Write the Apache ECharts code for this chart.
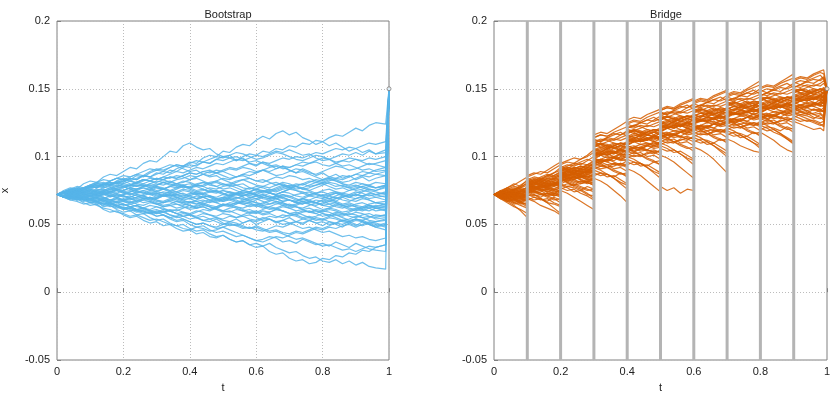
<!DOCTYPE html>
<html><head><meta charset="utf-8">
<script src="https://cdn.jsdelivr.net/npm/echarts/dist/echarts.min.js"></script>
<style>html,body{margin:0;padding:0;background:#fff}#c{width:830px;height:393px}</style>
</head><body><div id="c"></div>
<script>
// ---------- data (path values are in thousandths of x) ----------
const panelTitles = ['Bootstrap', 'Bridge'];
const xAxisName = 't';
const yAxisName = 'x';
const yTickLabels = ['-0.05', '0', '0.05', '0.1', '0.15', '0.2'];
const endPoint = [1, 0.15];
const bridgeBars = [0.1, 0.2, 0.3, 0.4, 0.5, 0.6, 0.7, 0.8, 0.9];
const bootStep = 0.02, bootLastT = 0.99;
const bridgeSegOffsets = [0, 0.02, 0.04, 0.06, 0.08, 0.1];
const bridgeLastOffsets = [0, 0.02, 0.04, 0.06, 0.08, 0.09];

const bootPaths = [
[72,74,73,76,75,78,77,80,79,82,84,83,86,85,88,90,89,92,94,93,96,95,99,101,100,104,103,107,109,108,112,115,113,117,119,116,118,114,112,109,111,108,110,107,104,106,103,105,102,105],
[72,75,77,76,80,82,81,85,87,86,89,92,91,95,97,96,100,104,103,108,110,107,105,106,102,100,101,97,99,95,93,96,94,91,93,90,88,91,89,86,88,85,87,84,86,83,85,82,84,86],
[72,71,74,73,76,78,77,80,79,82,81,84,83,86,85,88,87,90,89,92,94,93,96,95,98,100,99,97,100,102,101,104,103,106,105,108,107,110,109,112,111,114,116,115,118,121,119,123,125,124],
[72,70,68,69,66,64,65,61,59,60,57,55,56,53,51,52,49,50,47,45,46,43,44,41,40,42,39,37,38,35,36,34,36,33,31,29,30,27,25,26,23,22,24,21,23,20,22,19,18,17],
[72,73,70,68,69,66,67,63,64,61,59,60,57,58,55,53,54,51,49,50,47,45,46,43,41,42,39,37,38,35,33,34,30,28,29,25,23,24,21,22,25,24,27,26,29,28,31,30,33,35],
[72,71,73,70,68,69,67,65,66,63,61,62,60,58,59,56,57,54,52,53,50,48,49,46,44,45,43,41,42,40,38,39,41,40,37,38,36,39,37,35,36,34,37,35,33,36,34,32,31,30],
[72,74,72,70,71,69,67,68,66,64,65,63,64,62,60,61,59,60,58,56,57,55,56,54,55,53,52,54,51,53,50,52,54,51,53,55,52,50,53,51,49,52,50,48,51,49,52,50,48,50],
[72,73,75,74,72,73,71,72,70,72,71,69,70,72,74,73,71,72,70,68,69,67,68,66,68,70,69,67,65,66,64,66,68,67,65,63,64,66,65,63,61,62,64,63,61,60,62,64,63,65],
[72,74,76,75,77,79,78,80,79,81,83,82,80,82,84,83,85,84,86,85,83,85,87,86,88,86,84,85,87,89,88,90,88,86,87,89,91,90,88,87,89,91,93,92,90,91,93,95,94,92],
[72,71,69,70,68,66,67,65,63,64,62,60,61,59,58,60,59,61,60,62,64,63,65,67,66,68,70,69,71,73,72,74,76,75,77,79,78,80,82,81,83,85,84,86,85,87,89,88,90,92],
[72,74,75,73,76,78,77,79,81,80,82,84,83,86,85,87,89,88,91,93,92,94,96,95,98,97,99,100,98,96,97,95,93,94,92,90,88,89,87,85,83,84,82,80,78,79,77,75,74,72],
[72,70,71,73,72,70,68,69,71,70,68,66,67,69,68,66,64,65,67,66,64,62,63,61,63,65,64,62,60,61,59,61,63,62,60,58,59,57,55,56,58,57,55,53,54,56,55,53,52,54],
[72,73,74,76,75,77,79,78,80,81,80,82,81,83,82,80,79,81,83,84,86,85,87,89,88,90,92,91,93,95,94,96,95,97,99,98,100,99,101,103,102,104,106,105,107,106,108,110,109,111],
[72,70,68,67,65,66,64,62,61,59,58,56,57,55,53,54,52,50,49,47,46,48,47,45,46,48,50,49,51,53,52,54,56,55,57,56,58,60,59,61,60,62,61,59,60,62,61,63,62,60],
[72,74,73,75,77,76,74,75,77,79,78,76,74,75,73,71,72,74,76,78,77,79,81,80,78,76,77,75,73,74,76,78,77,79,81,80,78,76,75,77,79,81,80,78,77,75,76,78,77,79],
[72,71,73,72,70,69,71,70,68,66,67,65,66,68,67,65,63,64,62,63,61,62,64,63,61,59,60,58,56,57,55,53,54,52,50,51,49,47,48,46,44,45,43,41,42,40,41,39,38,40],
[72,74,76,78,77,79,81,83,82,84,86,85,87,89,91,90,92,94,93,91,89,90,87,85,86,83,81,79,80,77,75,73,74,71,69,68,66,67,65,64,66,68,67,70,72,71,74,76,75,78],
[72,70,71,69,67,68,66,64,65,63,61,62,60,61,59,58,60,57,55,56,54,55,53,52,54,51,49,50,48,47,49,47,45,46,44,43,45,44,46,48,47,49,51,50,52,54,53,55,57,56],
[72,73,75,77,76,78,80,79,82,84,83,85,87,86,89,91,90,92,94,93,95,97,96,98,100,99,101,103,102,100,98,99,101,103,102,100,98,97,99,101,100,98,96,97,99,98,96,94,95,97],
[72,73,71,72,74,73,75,74,72,73,71,70,72,71,69,70,72,71,73,75,74,72,73,71,70,72,74,73,75,77,76,74,75,77,79,78,80,79,81,83,82,84,83,81,82,84,86,85,87,86],
[72,71,69,70,68,69,67,65,66,64,62,63,61,60,58,59,57,55,56,54,52,50,51,49,47,48,46,44,42,40,38,37,39,41,40,42,44,43,45,47,46,48,47,49,50,48,50,52,51,49],
[72,74,73,75,77,78,80,79,81,80,78,79,81,83,82,84,83,81,80,82,81,79,78,80,82,84,83,85,87,86,88,90,89,91,93,92,94,96,95,97,99,98,100,102,101,103,101,104,102,103],
[72,70,71,68,69,67,65,66,64,62,63,61,59,60,58,56,57,55,53,54,52,50,51,49,48,50,52,51,49,47,48,46,44,45,43,41,39,40,38,36,34,35,33,31,32,30,32,34,33,35],
[72,73,72,74,76,75,73,74,76,78,77,79,78,80,82,81,83,85,84,86,88,87,89,88,90,89,87,85,86,84,82,83,81,79,80,78,76,77,75,73,74,72,73,71,70,72,71,69,70,68],
[72,71,70,72,71,69,70,68,67,69,68,70,72,71,73,72,74,73,71,70,72,74,73,75,74,72,71,73,75,74,72,70,71,69,67,68,66,65,67,66,64,63,65,64,62,61,63,62,60,61],
[72,74,75,77,76,78,80,81,79,80,82,80,78,79,77,75,76,74,72,73,71,69,70,68,67,69,68,66,68,70,69,71,73,72,74,76,78,77,79,81,80,82,84,83,85,87,86,88,87,89],
[72,70,71,69,70,68,66,67,65,64,62,63,61,62,60,59,61,60,58,56,57,55,53,54,52,50,51,49,47,48,46,45,47,49,48,50,52,51,53,55,54,56,58,57,59,61,60,62,64,63],
[72,74,76,75,77,79,81,80,82,84,83,82,84,86,85,83,85,87,89,88,90,92,91,93,95,94,96,98,97,99,101,100,102,104,103,105,103,101,102,99,97,98,95,93,94,92,90,91,89,90],
[72,73,71,70,68,69,67,68,66,64,65,63,61,62,60,58,59,57,56,58,57,59,61,60,62,64,63,65,67,66,68,70,69,71,70,68,67,69,68,66,64,65,63,62,64,63,61,60,62,61],
[72,71,73,72,74,73,71,72,74,76,75,77,76,78,80,79,81,80,78,79,77,78,76,74,75,73,71,72,70,68,69,67,65,66,64,62,63,61,59,60,58,56,57,55,53,54,52,50,48,46],
[72,73,72,70,71,73,72,74,73,71,72,74,75,73,72,70,71,73,74,72,70,69,71,70,68,69,71,73,72,70,71,69,68,70,72,71,69,67,68,70,69,71,73,72,70,69,71,72,70,71],
[72,74,73,75,76,74,75,77,78,76,77,79,81,80,78,79,81,82,80,81,83,84,82,80,81,79,80,82,83,81,79,78,80,81,79,77,78,76,77,79,80,78,76,77,75,76,78,79,77,78],
[72,71,70,71,69,68,70,69,67,66,68,67,65,64,66,65,63,64,65,63,62,64,65,63,61,60,62,63,61,59,60,58,59,61,60,58,57,59,60,58,56,57,59,58,56,55,57,58,56,57],
[72,73,74,73,75,74,72,73,71,70,72,73,71,69,70,68,67,69,70,68,66,65,67,68,66,64,65,63,62,64,65,63,61,62,64,65,63,62,64,66,65,67,66,64,63,65,66,64,62,63],
[72,71,73,74,72,73,75,76,74,73,75,77,76,78,79,77,76,78,80,79,77,75,76,74,73,75,74,72,71,73,72,70,69,71,72,70,68,69,67,66,68,69,67,65,66,64,63,65,66,64],
[72,70,69,71,70,68,67,69,68,70,71,69,68,66,67,65,66,68,69,67,66,68,70,71,69,70,72,73,71,72,74,75,73,72,74,76,75,73,74,72,71,73,74,72,71,73,75,74,72,73],
[72,73,75,74,76,77,79,78,80,81,79,78,80,79,77,78,76,75,77,78,76,74,75,77,76,78,79,77,75,74,76,75,73,72,74,73,71,70,72,73,71,69,70,68,67,69,70,68,66,65],
[72,71,72,70,69,71,72,70,68,69,67,66,68,69,70,68,66,67,65,64,66,67,65,63,62,64,66,65,67,68,66,65,67,69,70,68,67,69,71,72,70,69,71,73,72,74,73,71,72,70],
[72,74,75,73,74,76,74,73,75,77,78,76,75,77,76,74,73,71,72,70,69,71,70,68,69,67,68,70,69,67,66,64,65,67,66,64,63,61,62,60,59,61,60,58,57,59,58,56,55,57],
[72,71,69,68,70,71,73,72,74,75,73,74,76,77,75,74,76,78,77,79,80,78,79,81,82,80,78,79,77,76,78,77,75,74,76,77,75,74,72,73,75,76,74,73,75,77,78,76,75,77],
[72,73,71,70,72,71,69,68,66,67,65,63,64,62,61,63,62,60,61,59,58,60,59,57,56,58,57,55,56,54,53,55,54,52,53,51,52,54,53,51,52,50,51,53,52,54,53,51,52,53],
[72,74,73,75,74,76,78,77,79,78,80,79,81,83,82,84,83,85,84,86,88,87,89,90,88,89,91,90,92,91,89,90,92,93,91,92,94,93,95,96,94,93,95,97,96,98,97,99,98,100],
[72,71,72,74,73,71,70,72,73,75,74,72,73,75,76,78,77,75,74,76,75,73,72,74,75,73,71,70,68,69,71,72,70,69,71,70,72,73,71,70,72,71,69,70,68,67,69,68,66,67],
[72,70,71,69,70,72,71,73,71,70,68,69,67,68,70,69,71,72,70,69,71,73,72,70,68,67,69,68,66,65,63,64,62,61,63,62,60,61,59,58,60,59,57,56,58,57,55,56,54,55],
[72,73,74,72,73,75,76,75,77,76,74,75,73,74,72,73,71,70,72,71,73,72,70,71,69,68,70,72,73,71,73,75,74,76,78,77,79,80,78,79,81,80,78,79,77,78,80,79,81,80],
[72,71,70,72,73,71,69,70,68,67,69,68,70,71,69,67,66,68,67,65,64,62,63,61,62,60,59,61,60,58,59,57,58,56,55,57,56,54,55,53,54,52,51,53,52,50,49,51,50,48],
[72,74,75,76,74,75,73,74,76,75,73,72,74,73,75,77,76,78,79,77,78,80,81,79,78,80,79,81,83,84,82,81,83,85,84,86,85,83,84,82,81,83,82,80,79,81,80,78,77,79],
[72,72,70,71,73,72,74,73,71,72,70,71,69,70,68,69,71,70,68,66,67,65,66,64,63,65,64,66,65,63,64,62,63,65,66,64,65,67,66,68,67,65,66,64,65,63,62,64,63,62],
[72,73,71,72,70,71,73,75,74,76,75,77,79,78,80,82,81,79,80,78,77,79,78,76,74,75,73,72,74,73,71,72,70,69,67,68,66,65,67,66,68,67,69,71,70,72,71,73,72,74],
[72,71,73,71,70,68,69,67,65,66,64,65,63,62,64,63,61,60,58,59,57,56,58,57,55,54,56,55,57,59,58,60,59,61,60,58,57,55,56,54,53,55,54,52,51,53,52,50,49,51]
];

const bridgeSeg0 = [
[72,74,77,79,82,85],[72,70,67,64,60,55],[72,73,71,74,76,75],[72,71,69,70,67,68],[72,75,73,76,78,80],
[72,69,70,66,64,62],[72,74,76,75,77,79],[72,70,72,69,71,70],[72,73,75,72,70,73],[72,71,68,66,67,64],
[72,74,72,75,77,81],[72,70,67,68,65,66],[72,73,76,78,77,76],[72,71,73,70,72,74],[72,69,66,63,61,58],
[72,74,75,73,71,72],[72,73,70,71,68,69],[72,75,77,80,78,83],[72,70,71,73,75,77],[72,71,69,67,68,71],
[72,74,73,71,73,70],[72,70,68,65,66,63],[72,73,74,76,74,78],[72,71,72,74,72,75],[72,69,67,69,66,65],
[72,74,77,75,79,82],[72,71,70,68,70,67],[72,73,71,72,69,71],[72,70,73,75,74,73],[72,74,72,70,71,68],
[72,73,72,74,73,75],[72,71,72,70,71,69],[72,72,74,73,75,74],[72,70,69,71,70,72],[72,73,75,74,72,71],
[72,71,70,72,73,71],[72,74,72,73,71,73],[72,70,71,69,67,69],[72,73,74,72,74,76],[72,71,73,72,70,72],
[72,72,70,68,69,67],[72,74,75,77,76,74],[72,71,73,75,73,72],[72,70,72,71,73,70],[72,73,71,69,70,72],
[72,71,69,68,66,68],[72,74,73,72,74,75],[72,72,71,73,71,73],[72,70,68,70,69,71],[72,73,74,76,75,73]
];
const bridgeSeg1 = [
[78,80,83,85,88,92],[74,72,69,66,62,58],[80,81,79,82,84,83],[76,74,75,72,73,71],[82,84,83,86,88,90],
[70,68,69,66,65,63],[79,81,83,82,84,86],[75,77,76,74,76,75],[84,82,85,87,86,89],[72,70,68,69,66,64],
[77,79,81,84,86,88],[73,71,72,70,68,69],[81,83,82,80,82,81],[78,76,78,80,79,82],[69,67,64,62,60,57],
[86,88,87,90,93,96],[76,74,72,73,71,74],[80,82,84,83,85,87],[74,76,78,77,80,79],[71,72,70,73,72,76],
[83,81,80,78,80,77],[77,75,73,71,69,66],[79,80,82,81,79,84],[75,77,79,78,81,80],[68,70,69,67,70,68],
[85,87,89,88,91,94],[77,78,76,75,73,72],[81,79,80,82,81,78],[73,75,77,79,78,81],[79,77,75,76,74,75],
[77,78,76,78,80,79],[79,77,78,76,78,76],[75,77,78,80,79,81],[80,82,81,79,80,82],[78,76,75,77,75,73],
[76,77,79,78,76,78],[81,80,82,84,83,85],[74,75,73,71,72,70],[78,80,79,81,83,82],[77,75,76,74,73,75],
[82,81,83,82,84,86],[75,73,74,76,75,77],[79,81,80,78,80,79],[76,78,77,79,81,80],[80,78,79,77,76,74],
[73,74,72,73,71,72],[78,79,81,80,82,84],[81,83,82,80,79,81],[77,76,78,77,79,78],[83,85,84,86,85,87]
];
const bridgeSeg2 = [
[86,89,88,91,94,97],[83,81,78,76,73,69],[88,86,89,91,90,93],[84,85,83,81,82,80],[91,93,95,94,97,100],
[77,75,76,73,71,68],[87,90,92,91,89,92],[82,84,86,85,83,84],[93,91,94,96,98,96],[79,77,74,75,72,71],
[85,88,90,89,92,95],[80,78,79,77,75,76],[90,92,91,93,91,89],[86,83,85,87,89,88],[75,73,70,67,64,61],
[95,97,99,98,101,105],[84,81,79,80,82,81],[89,87,90,92,94,93],[81,84,83,86,85,87],[78,80,79,82,81,84],
[92,90,87,88,86,84],[85,82,80,78,76,74],[87,89,88,91,90,92],[83,86,88,87,90,89],[76,78,77,75,78,76],
[94,96,95,98,100,103],[86,84,85,83,81,79],[89,91,88,90,87,86],[80,82,85,84,87,89],[88,86,84,85,83,82],
[86,87,85,87,89,88],[88,86,87,85,87,85],[84,86,87,89,88,90],[89,91,90,88,89,91],[87,85,84,86,84,82],
[85,86,88,87,85,87],[90,89,91,93,92,94],[83,84,82,80,81,79],[87,89,88,90,92,91],[86,84,85,83,82,84],
[91,90,92,91,93,95],[84,82,83,85,84,86],[88,90,89,87,89,88],[85,87,86,88,90,89],[89,87,88,86,85,83],
[82,83,81,82,80,81],[87,88,90,89,91,93],[90,92,91,89,88,90],[86,85,87,86,88,87],[92,94,93,95,94,96]
];
const bridgeSeg3 = [
[98,101,103,102,106,110],[92,90,87,84,80,76],[104,106,105,108,110,109],[95,93,94,91,92,89],[110,112,114,113,116,119],
[88,86,87,84,81,79],[101,103,106,104,102,105],[96,98,97,99,97,98],[113,111,114,116,118,115],[90,88,85,86,83,80],
[100,102,104,103,106,108],[93,91,92,89,87,88],[107,109,108,110,108,106],[99,96,98,100,102,101],[84,82,79,75,71,66],
[116,118,117,120,123,126],[97,94,92,93,95,94],[105,103,106,108,110,109],[94,97,96,99,98,100],[91,93,92,95,94,97],
[111,109,106,107,105,103],[97,95,92,90,88,85],[102,104,103,106,105,107],[95,98,100,99,102,101],[86,88,87,85,88,86],
[114,116,115,118,120,122],[99,97,98,96,94,92],[108,110,107,109,106,104],[93,95,98,97,100,102],[103,101,99,100,98,97],
[102,103,101,103,105,104],[106,104,105,103,105,103],[99,101,102,104,103,105],[108,110,109,107,108,110],[104,102,101,103,101,99],
[101,102,104,103,101,103],[110,109,111,113,112,114],[97,98,96,94,95,93],[105,107,106,108,110,109],[103,101,102,100,99,101],
[112,111,113,112,114,116],[98,96,97,99,98,100],[107,109,108,106,108,107],[100,102,101,103,105,104],[109,107,108,106,105,103],
[95,96,94,95,93,94],[104,105,107,106,108,110],[111,113,112,110,109,111],[102,101,103,102,104,103],[114,116,115,117,116,118]
];
const bridgeSeg4 = [
[108,111,113,112,116,119],[100,98,95,92,88,84],[114,116,115,118,120,119],[104,102,103,100,101,98],[121,123,125,124,127,130],
[96,94,95,92,89,87],[111,113,116,114,112,115],[105,107,106,108,106,107],[124,122,125,127,129,126],[98,96,93,94,91,88],
[109,111,113,112,115,117],[102,100,101,98,96,97],[117,119,118,120,118,116],[107,104,106,108,110,109],[91,89,86,82,78,74],
[127,129,128,131,133,135],[106,103,101,102,104,103],[115,113,116,118,120,119],[103,106,105,108,107,109],[99,101,100,103,102,105],
[120,118,115,116,114,112],[106,104,101,99,97,94],[112,114,113,116,115,117],[104,107,109,108,111,110],[94,96,95,93,96,94],
[125,127,126,129,131,133],[108,106,107,105,103,101],[118,120,117,119,116,114],[101,103,106,105,108,110],[113,111,109,110,108,107],
[112,113,111,113,115,114],[116,114,115,113,115,113],[109,111,112,114,113,115],[118,120,119,117,118,120],[114,112,111,113,111,109],
[111,112,114,113,111,113],[120,119,121,123,122,124],[107,108,106,104,105,103],[115,117,116,118,120,119],[113,111,112,110,109,111],
[122,121,123,122,124,126],[108,106,107,109,108,110],[117,119,118,116,118,117],[110,112,111,113,115,114],[119,117,118,116,115,113],
[105,106,104,105,103,104],[114,115,117,116,118,120],[121,123,122,120,119,121],[112,111,113,112,114,113],[124,126,125,127,126,128]
];
const bridgeSeg5 = [
[118,121,123,122,126,129],[110,108,105,102,98,94],[124,126,125,128,130,129],[114,112,113,110,111,108],[130,132,134,133,136,139],
[106,104,105,102,99,97],[121,123,126,124,122,125],[115,117,116,118,116,117],[133,131,134,136,138,135],[108,106,103,104,101,98],
[119,121,123,122,125,127],[112,110,111,108,106,107],[127,129,128,130,128,126],[117,114,116,118,120,119],[101,99,96,92,88,84],
[135,137,136,139,141,143],[116,113,111,112,114,113],[125,123,126,128,130,129],[113,116,115,118,117,119],[109,111,110,113,112,115],
[129,127,124,125,123,121],[116,114,111,109,107,104],[122,124,123,126,125,127],[114,117,119,118,121,120],[78,75,77,73,76,75],
[134,136,135,138,140,142],[118,116,117,115,113,111],[128,130,127,129,126,124],[111,113,116,115,118,120],[123,121,119,120,118,117],
[122,123,121,123,125,124],[126,124,125,123,125,123],[119,121,122,124,123,125],[128,130,129,127,128,130],[124,122,121,123,121,119],
[121,122,124,123,121,123],[130,129,131,133,132,134],[117,118,116,114,115,113],[125,127,126,128,130,129],[123,121,122,120,119,121],
[132,131,133,132,134,136],[118,116,117,119,118,120],[127,129,128,126,128,127],[120,122,121,123,125,124],[129,127,128,126,125,123],
[115,116,114,115,113,114],[124,125,127,126,128,130],[131,133,132,130,129,131],[122,121,123,122,124,123],[134,136,135,137,136,138]
];
const bridgeSeg6 = [
[124,127,129,128,132,135],[116,114,111,108,104,100],[130,132,131,134,136,135],[120,118,119,116,117,114],[136,138,140,139,142,145],
[112,110,111,108,105,102],[127,129,132,130,128,131],[121,123,122,124,122,123],[139,137,140,142,144,141],[114,112,109,110,107,104],
[125,127,129,128,131,133],[118,116,117,114,112,113],[133,135,134,136,134,132],[123,120,122,124,126,125],[107,105,102,98,93,88],
[141,143,142,145,147,149],[122,119,117,118,120,119],[131,129,132,134,136,135],[119,122,121,124,123,125],[115,117,116,119,118,121],
[135,133,130,131,129,127],[122,120,117,115,113,110],[128,130,129,132,131,133],[120,123,125,124,127,126],[111,113,112,110,113,111],
[140,142,141,144,146,148],[124,122,123,121,119,117],[134,136,133,135,132,130],[117,119,122,121,124,126],[129,127,125,126,124,123],
[127,128,126,128,130,129],[131,129,130,128,130,128],[124,126,127,129,128,130],[133,135,134,132,133,135],[129,127,126,128,126,124],
[126,127,129,128,126,128],[135,134,136,138,137,139],[122,123,121,119,120,118],[130,132,131,133,135,134],[128,126,127,125,124,126],
[137,136,138,137,139,141],[123,121,122,124,123,125],[132,134,133,131,133,132],[125,127,126,128,130,129],[134,132,133,131,130,128],
[120,121,119,120,118,119],[129,130,132,131,133,135],[136,138,137,135,134,136],[127,126,128,127,129,128],[139,141,140,142,141,143]
];
const bridgeSeg7 = [
[129,132,134,133,137,140],[121,119,116,113,110,106],[135,137,136,139,141,140],[125,123,124,121,122,119],[141,143,145,144,147,150],
[117,115,116,113,110,108],[132,134,137,135,133,136],[126,128,127,129,127,128],[144,142,145,147,149,146],[119,117,114,115,112,109],
[130,132,134,133,136,138],[123,121,122,119,117,118],[138,140,139,141,139,137],[128,125,127,129,131,130],[113,111,108,106,104,103],
[146,148,147,150,153,156],[127,124,122,123,125,124],[136,134,137,139,141,140],[124,127,126,129,128,130],[120,122,121,124,123,126],
[140,138,135,136,134,132],[127,125,122,120,118,115],[133,135,134,137,136,138],[125,128,130,129,132,131],[116,118,117,115,118,116],
[145,147,146,149,151,153],[129,127,128,126,124,122],[139,141,138,140,137,135],[122,124,127,126,129,131],[134,132,130,131,129,128],
[132,133,131,133,135,134],[136,134,135,133,135,133],[129,131,132,134,133,135],[138,140,139,137,138,140],[134,132,131,133,131,129],
[131,132,134,133,131,133],[140,139,141,143,142,144],[127,128,126,124,125,123],[135,137,136,138,140,139],[133,131,132,130,129,131],
[142,141,143,142,144,146],[128,126,127,129,128,130],[137,139,138,136,138,137],[130,132,131,133,135,134],[139,137,138,136,135,133],
[125,126,124,125,123,124],[134,135,137,136,138,140],[141,143,142,140,139,141],[132,131,133,132,134,133],[144,146,145,147,146,148]
];
const bridgeSeg8 = [
[132,135,137,136,140,143],[125,123,120,117,113,109],[138,140,139,142,144,143],[128,126,127,124,125,122],[145,147,149,148,151,154],
[121,119,120,117,114,111],[135,137,140,138,136,139],[129,131,130,132,130,131],[149,147,150,152,154,151],[123,121,118,116,113,110],
[133,135,137,136,139,141],[126,124,125,122,120,121],[141,143,142,144,142,140],[131,128,130,132,134,133],[118,115,112,108,105,103],
[151,153,152,155,158,161],[130,127,125,126,128,127],[139,137,140,142,144,143],[127,130,129,132,131,133],[123,125,124,127,126,129],
[143,141,138,139,137,135],[130,128,125,123,121,118],[136,138,137,140,139,141],[128,131,133,132,135,134],[120,122,121,119,122,120],
[150,152,151,154,156,158],[132,130,131,129,127,125],[142,144,141,143,140,138],[125,127,130,129,132,134],[137,135,133,134,132,131],
[136,137,135,137,139,138],[140,138,139,137,139,137],[133,135,136,138,137,139],[142,144,143,141,142,144],[138,136,135,137,135,133],
[135,136,138,137,135,137],[144,143,145,147,146,148],[131,132,130,128,129,127],[139,141,140,142,144,143],[137,135,136,134,133,135],
[146,145,147,146,148,150],[132,130,131,133,132,134],[141,143,142,140,142,141],[134,136,135,137,139,138],[143,141,142,140,139,137],
[129,130,128,129,127,128],[138,139,141,140,142,144],[145,147,146,144,143,145],[136,135,137,136,138,137],[148,150,149,151,150,152]
];
const bridgeSeg9 = [
[138,141,143,142,146,148],[132,130,128,126,124,122],[144,146,145,148,150,149],[135,133,134,131,132,130],[151,153,155,154,157,159],
[128,126,127,125,123,124],[141,143,146,144,142,145],[136,138,137,139,137,138],[155,153,156,158,160,157],[130,128,126,127,125,126],
[139,141,143,142,145,147],[133,131,132,129,128,129],[147,149,148,150,148,146],[137,134,136,138,140,139],[126,124,122,120,121,119],
[157,159,158,161,163,164],[136,133,131,132,134,133],[145,143,146,148,150,149],[134,137,136,139,138,140],[131,133,132,135,134,136],
[149,147,144,145,143,141],[138,136,133,131,129,127],[142,144,143,146,145,147],[135,138,140,139,142,141],[129,131,130,128,131,129],
[156,158,157,160,162,161],[140,138,139,137,135,133],[148,150,147,149,146,144],[133,135,138,137,140,142],[143,141,139,140,138,137],
[142,143,141,143,145,144],[146,144,145,143,145,143],[139,141,142,144,143,145],[148,150,149,147,148,150],[144,142,141,143,141,139],
[141,142,144,143,141,143],[150,149,151,153,152,154],[137,138,136,134,135,133],[145,147,146,148,150,149],[143,141,142,140,139,141],
[152,151,153,152,154,156],[138,136,137,139,138,140],[147,149,148,146,148,147],[140,142,141,143,145,144],[149,147,148,146,145,143],
[135,136,134,135,133,134],[144,145,147,146,148,150],[151,153,152,150,149,151],[142,141,143,142,144,143],[154,156,155,157,156,158]
];
const bridgeSegs = [bridgeSeg0,bridgeSeg1,bridgeSeg2,bridgeSeg3,bridgeSeg4,bridgeSeg5,bridgeSeg6,bridgeSeg7,bridgeSeg8,bridgeSeg9];

// ---------- chart ----------
const UNIT = 0.001;
const FONT = 'Liberation Sans, Arial, sans-serif';
const BLUE = '#56b4e9', ORANGE = '#d55e00';
const chart = echarts.init(document.getElementById('c'), null, {renderer: 'canvas'});

const grids = [
  {left: 57, right: 441, top: 21, bottom: 33, show: true, borderColor: '#808080', borderWidth: 1, backgroundColor: 'transparent', containLabel: false, outerBoundsMode: 'none'},
  {left: 494, right: 3, top: 21, bottom: 33, show: true, borderColor: '#808080', borderWidth: 1, backgroundColor: 'transparent', containLabel: false, outerBoundsMode: 'none'}
];
const labelStyle = {fontSize: 11, color: '#222', fontFamily: FONT};
function fmtY(v){ return parseFloat(v.toFixed(3)).toString(); }
function xAx(i, grid){
  return {type: 'value', gridIndex: i, min: 0, max: 1, interval: 0.2,
    name: xAxisName, nameLocation: 'middle', nameGap: 22, nameTextStyle: {fontSize: 11, color: '#222', fontFamily: FONT},
    axisLine: {show: false}, axisTick: {show: true, inside: true, length: 4, lineStyle: {color: '#808080'}},
    axisLabel: Object.assign({margin: 6, formatter: v => parseFloat(v.toFixed(2)).toString()}, labelStyle),
    splitLine: {show: grid, lineStyle: {color: '#bcbcbc', type: [1, 2], width: 1}}};
}
function yAx(i, withName){
  return {type: 'value', gridIndex: i, min: -0.05, max: 0.2, interval: 0.05,
    name: withName ? yAxisName : '', nameLocation: 'middle', nameGap: 47, nameTextStyle: {fontSize: 11, color: '#222', fontFamily: FONT},
    axisLine: {show: false}, axisTick: {show: true, inside: true, length: 4, lineStyle: {color: '#808080'}},
    axisLabel: Object.assign({margin: 7, formatter: fmtY}, labelStyle),
    splitLine: {show: true, lineStyle: {color: '#bcbcbc', type: [1, 2], width: 1}}};
}

const series = [];
bootPaths.forEach(p => {
  const n = p.length;
  const data = p.map((v, i) => [i === n - 1 ? bootLastT : i * bootStep, v * UNIT]);
  data.push(endPoint);
  series.push({type: 'line', xAxisIndex: 0, yAxisIndex: 0, data, symbol: 'none', silent: true,
    lineStyle: {color: BLUE, width: 1.2, opacity: 0.85}, z: 2});
});
bridgeSegs.forEach((seg, k) => {
  const last = k === bridgeSegs.length - 1;
  const offs = last ? bridgeLastOffsets : bridgeSegOffsets;
  seg.forEach(p => {
    const data = p.map((v, j) => [k * 0.1 + offs[j], v * UNIT]);
    if (last) data.push(endPoint);
    series.push({type: 'line', xAxisIndex: 1, yAxisIndex: 1, data, symbol: 'none', silent: true,
      lineStyle: {color: ORANGE, width: 1.2, opacity: 0.85}, z: 2});
  });
});
bridgeBars.forEach(t => {
  series.push({type: 'line', xAxisIndex: 1, yAxisIndex: 1, data: [[t, -0.05], [t, 0.2]], symbol: 'none', silent: true,
    lineStyle: {color: '#b4b4b4', width: 3, cap: 'butt'}, z: 5});
});
[0, 1].forEach(i => {
  series.push({type: 'scatter', xAxisIndex: i, yAxisIndex: i, data: [endPoint], symbol: 'circle', symbolSize: 4,
    itemStyle: {color: '#fff', borderColor: '#777', borderWidth: 1}, clip: false, silent: true, z: 6});
});

chart.setOption({
  animation: false,
  backgroundColor: '#fff',
  title: [
    {text: panelTitles[0], left: 223, top: 4, textAlign: 'center', textStyle: {fontSize: 11, fontWeight: 'normal', color: '#222', fontFamily: FONT}},
    {text: panelTitles[1], left: 661, top: 4, textAlign: 'center', textStyle: {fontSize: 11, fontWeight: 'normal', color: '#222', fontFamily: FONT}}
  ],
  grid: grids,
  xAxis: [xAx(0, true), xAx(1, false)],
  yAxis: [yAx(0, true), yAx(1, false)],
  series
});
</script>
</body></html>
